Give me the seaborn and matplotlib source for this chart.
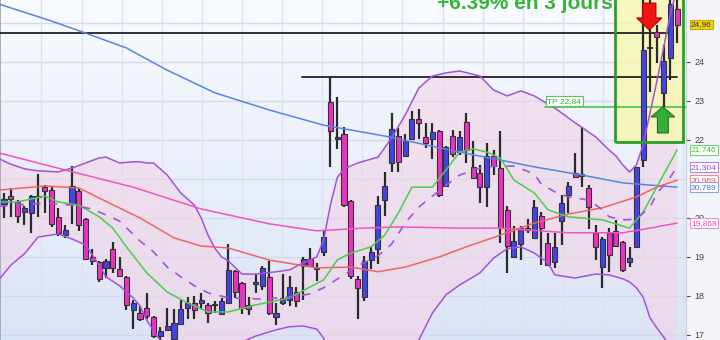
import numpy as np
import pandas as pd
import matplotlib
matplotlib.use("Agg")
import matplotlib.pyplot as plt
import seaborn as sns
from matplotlib.patches import FancyArrow, Rectangle
from matplotlib.colors import LinearSegmentedColormap

# ---------------- data ----------------
opens = [20.36, 20.56, 20.41, 20.15, 20.13, 20.56, 20.79, 20.72, 20.03, 19.56,
         20.36, 20.69, 19.97, 19.00, 18.87, 18.72, 19.21, 18.69, 18.49, 17.64,
         17.56, 17.69, 17.46, 16.97, 17.13, 16.90, 17.28, 17.69, 17.82, 17.82,
         17.77, 17.78, 17.54, 17.82, 18.64, 18.33, 17.77, 18.31, 18.26, 18.49,
         17.46, 17.82, 17.90, 18.10, 18.77, 18.95, 18.72, 19.13, 22.97, 22.03,
         22.15, 20.44, 18.44, 17.97, 18.92, 19.21, 20.46, 21.41, 22.10, 21.59,
         22.03, 22.54, 22.08, 22.03, 22.23, 20.82, 22.10, 21.69, 22.46, 21.31,
         21.15, 20.79, 21.59, 21.28, 20.21, 19.00, 19.33, 19.74, 19.49, 20.05,
         19.36, 18.87, 19.92, 20.59, 21.15, 21.08, 20.77, 19.62, 18.74, 19.62,
         19.67, 19.38, 18.87, 19.26, 21.49, 24.38, 24.77, 23.21, 24.10, 25.36]
highs = [20.64, 20.77, 20.46, 20.31, 20.59, 21.13, 20.85, 20.79, 20.26, 19.82,
         21.33, 20.77, 19.99, 19.21, 18.89, 18.95, 19.38, 19.00, 18.51, 17.90,
         17.74, 18.08, 17.48, 17.21, 17.69, 17.67, 17.90, 17.97, 18.00, 18.08,
         17.82, 17.87, 17.95, 19.33, 18.66, 18.35, 17.97, 18.56, 18.77, 18.90,
         17.82, 18.56, 18.51, 18.23, 19.00, 19.23, 18.85, 19.69, 23.62, 23.10,
         22.33, 20.46, 18.51, 19.03, 19.26, 20.56, 21.18, 22.69, 22.31, 22.15,
         22.74, 22.79, 22.44, 22.44, 22.25, 21.85, 22.26, 22.23, 22.69, 21.97,
         21.36, 21.92, 21.74, 22.23, 20.31, 19.79, 19.79, 19.97, 20.46, 20.15,
         19.62, 19.62, 20.59, 20.92, 21.67, 22.33, 20.85, 19.82, 19.50, 19.74,
         19.95, 19.40, 19.26, 21.31, 25.80, 25.80, 24.95, 24.44, 25.80, 25.80]
lows = [20.00, 20.03, 19.87, 19.82, 19.62, 20.03, 20.13, 19.77, 19.54, 19.49,
        19.85, 19.67, 18.92, 18.79, 18.36, 18.46, 18.59, 18.49, 17.64, 17.15,
        17.36, 17.41, 16.92, 16.85, 17.10, 16.85, 17.26, 17.41, 17.41, 17.67,
        17.31, 17.56, 17.51, 17.79, 17.95, 17.54, 17.51, 18.08, 18.15, 17.51,
        17.26, 17.77, 17.74, 17.72, 17.90, 18.74, 18.38, 19.03, 21.31, 21.77,
        20.28, 18.44, 17.41, 17.87, 18.69, 18.82, 20.05, 21.18, 21.18, 21.56,
        22.03, 22.03, 21.79, 21.51, 20.54, 20.79, 21.56, 21.62, 21.41, 21.00,
        20.38, 20.28, 21.10, 19.36, 18.59, 19.00, 18.92, 19.62, 19.49, 18.79,
        18.77, 18.72, 19.31, 20.13, 21.03, 20.79, 19.72, 18.92, 18.21, 18.62,
        19.26, 18.62, 18.74, 19.24, 21.31, 23.23, 23.97, 22.85, 23.54, 24.49]
closes = [20.49, 20.49, 20.05, 20.26, 20.56, 20.54, 20.69, 19.85, 19.62, 19.69,
          20.82, 19.82, 18.95, 18.90, 18.44, 18.90, 18.72, 18.51, 17.77, 17.82,
          17.41, 17.49, 16.97, 17.10, 17.23, 17.31, 17.67, 17.82, 17.64, 17.90,
          17.56, 17.77, 17.87, 18.67, 18.10, 17.69, 17.67, 18.36, 18.72, 17.56,
          17.56, 17.95, 18.23, 17.87, 18.95, 18.77, 18.70, 19.51, 22.23, 22.08,
          20.33, 18.51, 18.21, 18.90, 19.13, 20.33, 20.82, 22.28, 21.44, 21.97,
          22.54, 22.44, 21.92, 22.21, 20.59, 21.82, 21.64, 22.08, 21.74, 21.03,
          20.79, 21.59, 21.33, 19.74, 19.28, 19.41, 19.74, 19.69, 20.28, 19.74,
          18.79, 19.26, 20.38, 20.82, 21.05, 21.13, 20.28, 19.26, 19.46, 19.05,
          19.28, 18.67, 18.97, 21.31, 24.31, 24.36, 24.64, 24.03, 25.49, 24.96]

ma_blue_idx = [-1, 7, 12, 18, 24, 31, 39, 47, 56, 67, 78, 85, 91, 99]
ma_blue = [25.50, 25.05, 24.74, 24.36, 23.79, 23.21, 22.77, 22.38, 22.10, 21.69,
           21.31, 21.10, 20.90, 20.789]

ma_mag_idx = [-1, 9, 19, 29, 39, 46, 53, 58, 67, 73, 83, 91, 95, 99]
ma_mag = [21.68, 21.23, 20.79, 20.23, 19.85, 19.67, 19.74, 19.77, 19.74, 19.74,
          19.62, 19.62, 19.74, 19.868]

ma_red_idx = [-1, 6, 11, 14, 20, 25, 29, 33, 39, 46, 51, 55, 59, 64, 68, 73, 78,
              83, 88, 93, 96, 99]
ma_red = [20.71, 20.82, 20.77, 20.51, 20.00, 19.49, 19.28, 19.23, 18.92, 18.72,
          18.74, 18.62, 18.74, 19.00, 19.26, 19.56, 19.87, 20.10, 20.26, 20.54,
          20.79, 20.969]

ma_green_idx = [-1, 2, 6, 8, 11, 14, 16, 18, 21, 24, 27, 30, 33, 37, 42, 45, 47,
                49, 51, 54, 56, 58, 60, 63, 65, 67, 69, 71, 73, 75, 78, 80, 83,
                88, 92, 94, 96, 99]
ma_green = [20.41, 20.41, 20.56, 20.41, 20.33, 20.03, 19.74, 19.26, 18.59, 18.10,
            17.82, 17.59, 17.59, 17.77, 17.95, 18.23, 18.41, 18.92, 19.10, 19.26,
            19.56, 20.13, 20.79, 20.79, 21.23, 21.69, 21.77, 21.69, 21.54, 20.97,
            20.64, 20.21, 20.03, 19.95, 19.74, 20.15, 20.79, 21.746]

ma_dash_idx = [-1, 2, 6, 10, 13, 17, 20, 22, 24, 26, 28, 30, 33, 38, 42, 45, 47,
               50, 52, 55, 57, 59, 61, 63, 66, 67, 70, 72, 75, 78, 79, 81, 83,
               86, 88, 89, 91, 93, 95, 96, 98, 99]
ma_dash = [20.30, 20.33, 20.38, 20.33, 20.23, 19.92, 19.41, 19.13, 18.74, 18.49,
           18.26, 18.08, 17.95, 17.92, 17.97, 18.05, 18.21, 18.54, 18.77, 19.03,
           19.33, 19.87, 20.28, 20.56, 20.97, 21.10, 21.28, 21.33, 21.33, 21.13,
           20.87, 20.67, 20.54, 20.46, 20.21, 20.03, 19.95, 19.97, 20.28, 20.62,
           21.05, 21.304]

bb_idx = [-1, 1, 3, 5, 8, 10, 12, 14, 15, 17, 19, 20, 21, 22, 24, 26, 28, 29, 30,
          31, 32, 33, 35, 37, 40, 42, 44, 46, 47, 48, 49, 50, 52, 55, 57, 59, 61,
          63, 65, 67, 70, 72, 74, 76, 78, 80, 81, 84, 87, 89, 90, 91, 92, 93, 94,
          95, 96, 97, 98, 99]
bb_up = [21.54, 21.38, 21.26, 21.21, 21.18, 21.28, 21.41, 21.54, 21.56, 21.41,
         21.44, 21.44, 21.41, 21.41, 21.10, 20.64, 20.33, 20.00, 19.56, 19.23,
         19.00, 18.90, 18.56, 18.56, 18.62, 18.67, 18.85, 19.00, 19.44, 20.33,
         21.03, 21.26, 21.41, 21.56, 22.05, 22.64, 23.33, 23.64, 23.72, 23.77,
         23.64, 23.28, 23.13, 23.26, 23.13, 22.92, 22.82, 22.44, 22.08, 21.74,
         21.59, 21.36, 21.18, 21.36, 21.87, 22.69, 23.49, 24.36, 25.23, 25.90]
bb_lo = [18.36, 18.79, 19.08, 19.51, 19.59, 19.46, 19.31, 18.79, 18.49, 18.26,
         17.95, 17.74, 17.38, 17.10, 16.62, 16.36, 16.31, 16.33, 16.41, 16.49,
         16.56, 16.67, 16.82, 16.97, 17.13, 17.21, 17.23, 17.15, 16.92, 16.36,
         15.97, 15.59, 15.21, 15.21, 15.46, 16.10, 16.87, 17.56, 18.03, 18.28,
         18.59, 18.97, 19.21, 19.26, 19.10, 18.85, 18.54, 18.46, 18.56, 18.54,
         18.49, 18.44, 18.36, 18.21, 17.97, 17.44, 17.18, 16.95, 16.67, 16.36]

level_top = 24.74          # black horizontal line (top)
tp_value = 22.84           # take profit
tick_values = [17, 18, 19, 20, 22, 23, 24]
title_text = "+6.39% en 3 jours"

df = pd.DataFrame({"i": np.arange(len(opens)), "open": opens, "high": highs,
                   "low": lows, "close": closes})

# ---------------- style ----------------
sns.set_theme(style="white")
plt.rcParams["font.family"] = ["Liberation Sans", "DejaVu Sans"]

W, H = 720, 340
fig = plt.figure(figsize=(W / 100, H / 100), dpi=100)
fig.patch.set_facecolor("#f3f5fb")
ax = fig.add_axes([0, 0, 686 / W, 1])
x0, x1 = -0.59, 100.3
y0, y1 = 16.87, 25.59
ax.set_xlim(x0, x1)
ax.set_ylim(y0, y1)

# background gradient
cmap = LinearSegmentedColormap.from_list("bg", ["#f9fbff", "#dbe4f6"])
ax.imshow(np.linspace(0, 1, 256).reshape(-1, 1), cmap=cmap, aspect="auto",
          extent=[x0, x1, y0, y1], origin="upper", zorder=0)

# grid
for v in range(17, 26):
    ax.axhline(v, color="#d3d9e8", lw=1.0, zorder=0.5)
for gx in np.arange(5.5, 100, 5.9):
    ax.axvline(gx, color="#dde2ee", lw=1.0, zorder=0.5)

# Bollinger fill
ax.fill_between(bb_idx, bb_lo, bb_up, color="#f3d2e4", alpha=0.55, lw=0, zorder=1)

# yellow box
ax.add_patch(Rectangle((89.85, 21.94), 10.0, 5.0, fc="#f7f7b4", ec="none",
                       alpha=0.85, zorder=1.5))

# horizontal levels
ax.plot([x0, 97.9], [level_top, level_top], color="#222222", lw=1.3, zorder=3)
ax.plot([43.8, 99.0], [df.high[48], df.high[48]], color="#222222", lw=1.3, zorder=3)
ax.plot([79.6, x1], [tp_value, tp_value], color="#44c744", lw=1.2, zorder=3)
ax.text(79.9, tp_value + 0.06, "TP " + f"{tp_value:.2f}".replace(".", ","),
        fontsize=6, color="#2fae2f", va="bottom", ha="left", zorder=6,
        bbox=dict(boxstyle="square,pad=0.18", fc="white", ec="#5bc75b", lw=0.8))

# candles
up = df.close >= df.open
body_bot = np.minimum(df.open, df.close)
body_h = np.maximum(np.abs(df.close - df.open), 0.025)
colors = np.where(up, "#4343e6", "#ef2fc4")
ax.vlines(df.i, df.low, df.high, color="#2a2a2a", lw=1.6, zorder=4)
ax.bar(df.i, body_h, bottom=body_bot, width=0.74, color=colors,
       edgecolor="#333333", linewidth=0.8, zorder=4.5)

# indicator lines
sns.lineplot(x=bb_idx, y=bb_up, ax=ax, color="#a452d8", lw=1.1, zorder=5)
sns.lineplot(x=bb_idx, y=bb_lo, ax=ax, color="#a452d8", lw=1.1, zorder=5)
sns.lineplot(x=ma_blue_idx, y=ma_blue, ax=ax, color="#5585e6", lw=1.1, zorder=5)
sns.lineplot(x=ma_mag_idx, y=ma_mag, ax=ax, color="#f252c9", lw=1.1, zorder=5)
sns.lineplot(x=ma_red_idx, y=ma_red, ax=ax, color="#f36262", lw=1.1, zorder=5)
sns.lineplot(x=ma_green_idx, y=ma_green, ax=ax, color="#4ccc4c", lw=1.1, zorder=5)
sns.lineplot(x=ma_dash_idx, y=ma_dash, ax=ax, color="#a452d8", lw=1.2,
             linestyle=(0, (5, 5)), zorder=5)

# box border
ax.add_patch(Rectangle((89.85, 21.94), 10.0, 5.0, fc="none", ec="#28a028",
                       lw=2.0, zorder=6))

# arrows
ax.add_patch(FancyArrow(94.9, 25.51, 0, 24.82 - 25.51, width=1.95, head_width=3.7,
                        head_length=0.31, length_includes_head=True,
                        fc="#f01414", ec="#b00000", lw=0.8, zorder=7))
ax.add_patch(FancyArrow(96.9, 22.18, 0, 22.85 - 22.18, width=1.6, head_width=3.5,
                        head_length=0.26, length_includes_head=True,
                        fc="#35ad35", ec="#1d761d", lw=0.8, zorder=7))

# axes cosmetics
ax.set_xticks([])
ax.yaxis.tick_right()
ax.set_yticks(tick_values)
ax.set_yticklabels([str(v) for v in tick_values])
ax.tick_params(axis="y", labelsize=6.5, colors="#444444", length=3, width=0.8,
               pad=3, right=True, left=False)
for s in ["top", "bottom"]:
    ax.spines[s].set_visible(False)
ax.spines["left"].set_color("#9aa3b5")
ax.spines["left"].set_linewidth(1.2)
ax.spines["right"].set_color("#c9cfdc")
ax.spines["right"].set_linewidth(0.8)

# value tags
tags = [(closes[-1], "#333333", "#f2d21a", "#c9a800"),
        (ma_green[-1], "#3bbb3b", "white", "#6fd36f"),
        (ma_dash[-1], "#9a45d2", "white", "#b77fe0"),
        (ma_red[-1], "#ee5050", "white", "#f08c8c"),
        (ma_blue[-1], "#4a72dc", "white", "#88a4ea"),
        (ma_mag[-1], "#ec45bd", "white", "#f28ad6")]
for val, tc, fc, ec in tags:
    txt = f"{val:.3f}".rstrip("0") if val != closes[-1] else f"{val:.2f}"
    txt = txt.replace(".", ",")
    ax.text(1 + 5 / 686, val, txt, transform=ax.get_yaxis_transform(),
            fontsize=6, color=tc, va="center", ha="left", zorder=8, clip_on=False,
            bbox=dict(boxstyle="square,pad=0.15", fc=fc, ec=ec, lw=0.8))

# title (partly cut at the top)
fig.text(613 / W, 1 - 9 / H, title_text, ha="right", va="baseline",
         fontsize=15, fontweight="bold", color="#36b536")

fig.savefig("out.png", dpi=100)
